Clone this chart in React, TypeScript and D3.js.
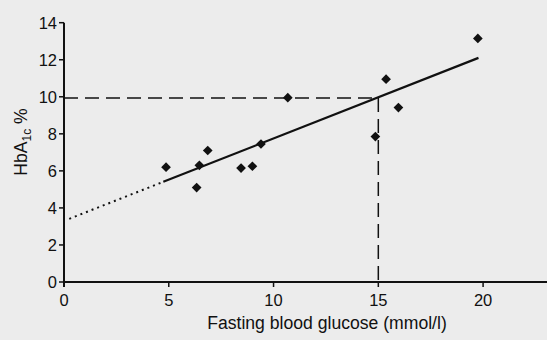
import React from "react";
import * as d3 from "d3";

const glucose = [4.87, 6.33, 6.46, 6.86, 8.45, 8.99, 9.4, 10.68, 14.86, 15.37, 15.96, 19.75];
const hba1c = [6.2, 5.1, 6.3, 7.1, 6.15, 6.25, 7.45, 9.95, 7.85, 10.95, 9.42, 13.15];
const xTicks = [0, 5, 10, 15, 20];
const yTicks = [0, 2, 4, 6, 8, 10, 12, 14];
const fitIntercept = 3.3;
const fitSlope = 0.445;
const fitStart = 4.74;
const fitEnd = 19.78;
const refX = 15;
const refY = 9.93;

const W = 547;
const H = 340;

export default function App() {
  const x = d3.scaleLinear().domain([0, 23.05]).range([64, 547]);
  const y = d3.scaleLinear().domain([0, 14]).range([282, 22.7]);
  const fit = (v: number) => fitIntercept + fitSlope * v;
  const line = d3
    .line<number>()
    .x((d) => x(d))
    .y((d) => y(fit(d)));
  const font = "'Liberation Sans', Arial, Helvetica, sans-serif";
  const diamond = d3.symbol().type(d3.symbolDiamond2).size(60);

  return (
    <svg
      width={W}
      height={H}
      style={{ position: "fixed", left: 0, top: 0 }}
      fontFamily={font}
    >
      <rect width={W} height={H} fill="#ececec" />
      {/* reference dashed lines */}
      <line
        x1={x(0)}
        x2={x(refX)}
        y1={y(refY)}
        y2={y(refY)}
        stroke="#111"
        strokeWidth={1.5}
        strokeDasharray="14,7"
      />
      <line
        x1={x(refX)}
        x2={x(refX)}
        y1={y(refY)}
        y2={y(0)}
        stroke="#111"
        strokeWidth={1.5}
        strokeDasharray="14,7"
      />
      {/* dotted extrapolation */}
      <path
        d={line([0.25, fitStart]) || ""}
        fill="none"
        stroke="#111"
        strokeWidth={2}
        strokeDasharray="2,4"
      />
      {/* regression line */}
      <path
        d={line([fitStart, fitEnd]) || ""}
        fill="none"
        stroke="#111"
        strokeWidth={2.2}
      />
      {/* points */}
      {glucose.map((g, i) => (
        <path
          key={i}
          d={diamond() || ""}
          transform={`translate(${x(g)},${y(hba1c[i])})`}
          fill="#111"
        />
      ))}
      {/* axes */}
      <line x1={x(0)} x2={x(0)} y1={y(14)} y2={y(0) + 5} stroke="#111" strokeWidth={2} />
      <line x1={x(0)} x2={W} y1={y(0)} y2={y(0)} stroke="#111" strokeWidth={2} />
      {yTicks.map((t) => (
        <g key={"y" + t}>
          <line x1={x(0) - 5} x2={x(0)} y1={y(t)} y2={y(t)} stroke="#111" strokeWidth={1.5} />
          <text
            x={x(0) - 7}
            y={y(t)}
            dy="0.36em"
            textAnchor="end"
            fontSize={16.5}
            fill="#111"
          >
            {t}
          </text>
        </g>
      ))}
      {xTicks.map((t) => (
        <g key={"x" + t}>
          <line x1={x(t)} x2={x(t)} y1={y(0)} y2={y(0) + 5} stroke="#111" strokeWidth={1.5} />
          <text x={x(t)} y={y(0) + 24} textAnchor="middle" fontSize={16.5} fill="#111">
            {t}
          </text>
        </g>
      ))}
      <text x={327} y={329} textAnchor="middle" fontSize={17.6} fill="#111">
        Fasting blood glucose (mmol/l)
      </text>
      <text
        transform={`translate(27,142) rotate(-90)`}
        textAnchor="middle"
        fontSize={17.6}
        fill="#111"
      >
        HbA
        <tspan fontSize={12} dy={4}>
          1c
        </tspan>
        <tspan dy={-4}> %</tspan>
      </text>
    </svg>
  );
}
